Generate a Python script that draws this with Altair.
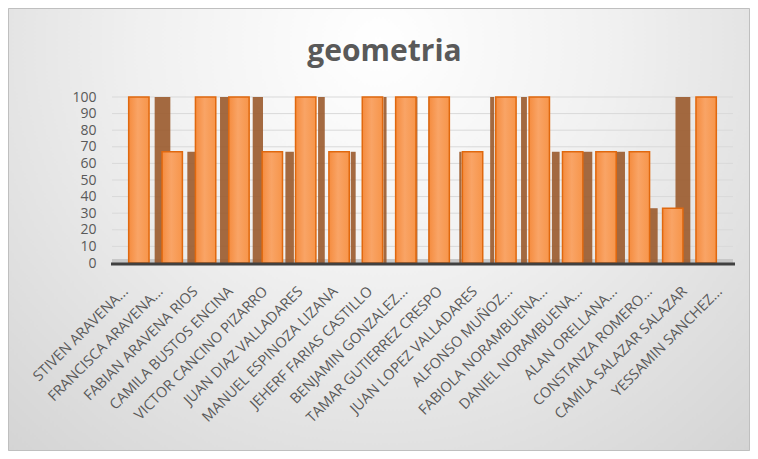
import altair as alt
import pandas as pd

names = [
    "STIVEN ARAVENA...",
    "FRANCISCA ARAVENA...",
    "FABIAN ARAVENA RIOS",
    "CAMILA BUSTOS ENCINA",
    "VICTOR CANCINO PIZARRO",
    "JUAN DIAZ VALLADARES",
    "MANUEL ESPINOZA LIZANA",
    "JEHERF FARIAS CASTILLO",
    "BENJAMIN GONZALEZ...",
    "TAMAR GUTIERREZ CRESPO",
    "JUAN LOPEZ VALLADARES",
    "ALFONSO MUÑOZ...",
    "FABIOLA NORAMBUENA...",
    "DANIEL NORAMBUENA...",
    "ALAN ORELLANA...",
    "CONSTANZA ROMERO...",
    "CAMILA SALAZAR SALAZAR",
    "YESSAMIN SANCHEZ...",
]
values = [100, 67, 100, 100, 67, 100, 67, 100, 100, 100, 67, 100, 100, 67, 67, 67, 33, 100]
y_ticks = [0, 10, 20, 30, 40, 50, 60, 70, 80, 90, 100]

df = pd.DataFrame({"nombre": names, "geometria": values, "idx": list(range(len(names)))})
grid_df = pd.DataFrame({"tick": y_ticks[1:]})

W, H = 621, 166
PL, PT, PR, PB = 104, 89, 17, 188
N = len(names)
HALF = 0.305  # half front-face width, in band steps
VP = 9.73     # perspective centre, in band steps
FONT = "Open Sans"

yscale = alt.Scale(domain=[0, 100], nice=False)
y_axis = alt.Axis(
    values=y_ticks,
    labelFont=FONT,
    labelFontSize=14,
    labelColor="#595959",
    labelPadding=16,
    labelOverlap=False,
    labelFlush=False,
    ticks=False,
    domain=False,
    grid=False,
    zindex=1,
    title=None,
)

bg = alt.Chart(pd.DataFrame({"k": [0]})).mark_rect(
    fill=alt.Gradient(
        gradient="radial",
        x1=0.5, y1=0.25, r1=0.0,
        x2=0.5, y2=0.25, r2=0.8,
        stops=[
            alt.GradientStop(color="#ffffff", offset=0),
            alt.GradientStop(color="#f0f0f0", offset=0.4),
            alt.GradientStop(color="#d0d0d0", offset=1),
        ],
    ),
    stroke="#bfbfbf",
    strokeWidth=1,
    clip=False,
).encode(
    x=alt.value(-PL + 0.5),
    x2=alt.value(W + PR - 0.5),
    y=alt.value(-PT + 0.5),
    y2=alt.value(H + PB - 0.5),
)

grid = alt.Chart(grid_df).mark_rule(color="#d9d9d9", strokeWidth=1).encode(
    y=alt.Y("tick:Q", scale=yscale, axis=y_axis),
    x=alt.value(0),
    x2=alt.value(W),
)

floor = alt.Chart(pd.DataFrame({"k": [0]})).mark_rect(color="#c8c8c8").encode(
    x=alt.value(0),
    x2=alt.value(W),
    y=alt.value(H - 4),
    y2=alt.value(H),
)

sides = alt.Chart(df).transform_calculate(
    c="datum.idx + 1",
).transform_calculate(
    d=f"0.055 * ({VP} - datum.c)",
).transform_calculate(
    s1=f"datum.d > 0 ? datum.c + {HALF} : datum.c - {HALF} + datum.d",
    s2=f"datum.d > 0 ? datum.c + {HALF} + datum.d : datum.c - {HALF}",
).mark_rect(color="#9a5a2c", opacity=0.9).encode(
    x=alt.X("s1:Q", scale=alt.Scale(domain=[0, N + 1], nice=False, zero=False), axis=None),
    x2="s2:Q",
    y=alt.Y("geometria:Q", scale=yscale, axis=y_axis),
    y2=alt.datum(0),
)

bars = alt.Chart(df).mark_bar(
    fill=alt.Gradient(
        gradient="linear",
        x1=0, y1=0, x2=1, y2=0,
        stops=[
            alt.GradientStop(color="#f58c3f", offset=0),
            alt.GradientStop(color="#f9a466", offset=0.45),
            alt.GradientStop(color="#f7954a", offset=1),
        ],
    ),
    stroke="#e0680e",
    strokeWidth=1.5,
).encode(
    x=alt.X(
        "nombre:N",
        sort=names,
        scale=alt.Scale(paddingInner=0.39, paddingOuter=0.5),
        axis=None,
    ),
    y=alt.Y("geometria:Q", scale=yscale, axis=y_axis),
)

baseline = alt.Chart(pd.DataFrame({"k": [0]})).mark_rule(
    color="#404040", strokeWidth=3
).encode(
    x=alt.value(-1),
    x2=alt.value(W + 2),
    y=alt.value(H + 1),
)

labels = alt.Chart(df).mark_point(opacity=0).encode(
    x=alt.X(
        "nombre:N",
        sort=names,
        scale=alt.Scale(type="point", range=[13.5, 607.5], padding=0),
        axis=alt.Axis(
            title=None,
            labelAngle=-45,
            labelAlign="right",
            labelBaseline="middle",
            labelFont=FONT,
            labelFontSize=14.5,
            labelColor="#595959",
            labelPadding=26,
            labelLimit=300,
            ticks=False,
            domain=False,
            grid=False,
            zindex=1,
        ),
    ),
    y=alt.Y("geometria:Q", scale=yscale, axis=y_axis),
)

chart = alt.layer(bg, grid, floor, sides, bars, baseline, labels).resolve_scale(
    x="independent"
).properties(
    width=W,
    height=H,
    padding={"left": PL, "top": PT, "right": PR, "bottom": PB},
    autosize=alt.AutoSizeParams(type="none"),
    title=alt.TitleParams(
        "geometria",
        font=FONT,
        fontSize=30,
        fontWeight="bold",
        color="#595959",
        anchor="middle",
        frame="group",
        baseline="alphabetic",
        dx=-38,
        offset=-83,
        zindex=1,
    ),
).configure_view(stroke=None).configure(background="#e8e8e8")

chart.save("out.html", embed_options={"renderer": "svg", "actions": False})
